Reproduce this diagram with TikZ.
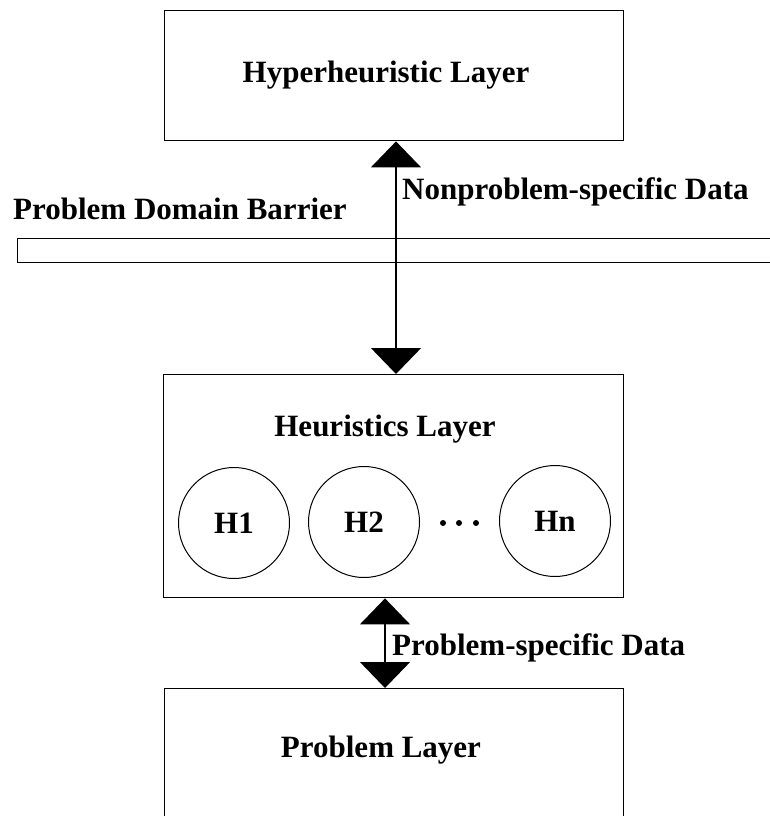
\documentclass[tikz,border=0pt]{standalone}
\usepackage{fontspec}
\setmainfont{Liberation Serif}
\usetikzlibrary{arrows.meta}
\begin{document}
\begin{tikzpicture}[x=1pt,y=-1pt,
  layer/.style={draw,line width=1.4pt,rectangle,inner sep=0pt,anchor=north west},
  lbl/.style={font=\fontsize{31}{36}\selectfont\bfseries,inner sep=0pt},
  heur/.style={draw,circle,line width=1pt,minimum size=111pt,inner sep=0pt,font=\fontsize{31}{36}\selectfont\bfseries},
  link/.style={line width=1.3pt,{Triangle[length=26pt,width=50pt]}-{Triangle[length=26pt,width=50pt]}},
  dotmark/.style={circle,fill,inner sep=0pt,minimum size=6pt}]
\useasboundingbox (0,0) rectangle (770,816);
\clip (0,0) rectangle (770,816);
% layers
\node[layer,minimum width=459pt,minimum height=130pt] (hyper) at (164,10) {};
\node[lbl,anchor=base] (hyperlbl) at (386,82) {Hyperheuristic Layer};
\node[layer,minimum width=800pt,minimum height=24pt,line width=1.3pt] (barrier) at (17,238) {};
\node[lbl,anchor=base west] (barrierlbl) at (13,219) {Problem Domain Barrier};
\node[layer,minimum width=460pt,minimum height=223pt] (heurlayer) at (163,374) {};
\node[lbl,anchor=base] (heurlbl) at (385,436) {Heuristics Layer};
\node[heur] (h1) at (234,523) {H1};
\node[heur] (h2) at (364,522) {H2};
\node[heur] (hn) at (555,521) {Hn};
\node[dotmark] (d1) at (443,523) {};
\node[dotmark] (d2) at (459,523) {};
\node[dotmark] (d3) at (476,523) {};
\node[layer,minimum width=459pt,minimum height=200pt] (problem) at (164,688) {};
\node[lbl,anchor=base] (problbl) at (381,757) {Problem Layer};
% connectors
\coordinate (xa) at (396,0);
\coordinate (xb) at (385,0);
\draw[link] (hyper.south -| xa) -- (heurlayer.north -| xa);
\draw[link] (heurlayer.south -| xb) -- (problem.north -| xb);
\node[lbl,anchor=base west] (nonlbl) at (402,199) {Nonproblem-specific Data};
\node[lbl,anchor=base west] (pslbl) at (392,655) {Problem-specific Data};
\end{tikzpicture}
\end{document}
